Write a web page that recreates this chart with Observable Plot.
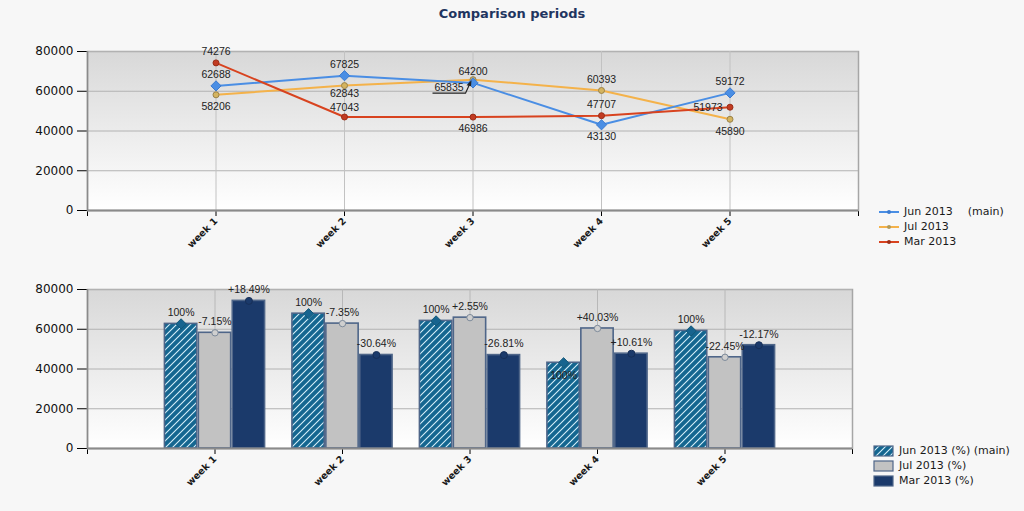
<!DOCTYPE html>
<html>
<head>
<meta charset="utf-8">
<script src="https://cdn.jsdelivr.net/npm/d3@7"></script>
<script src="https://cdn.jsdelivr.net/npm/@observablehq/plot@0.6"></script>
<style>
  html, body { margin: 0; padding: 0; background: #f7f7f7; width: 1024px; height: 511px; overflow: hidden; }
  #title { position: absolute; top: 6px; left: 0; width: 1024px; text-align: center; font: bold 13px "DejaVu Sans", sans-serif; color: #1f3560; }
  .chart { position: absolute; left: 0; }
  .chart svg { overflow: visible; }
  .chart [aria-label^="y-axis"] text { font: 12px "DejaVu Sans", sans-serif; fill: #111; }
  .chart [aria-label^="x-axis"] text { font: bold 9.5px "DejaVu Sans", sans-serif; fill: #1a1a1a; }
  .legend { position: absolute; font: 11px "DejaVu Sans", sans-serif; color: #1a1a1a; }
  .legend .row { height: 15px; line-height: 15px; white-space: nowrap; display: flex; align-items: center; }
  .legend svg { margin-right: 4px; }
</style>
</head>
<body>
<div id="title">Comparison periods</div>
<div id="top" class="chart" style="top:30px"></div>
<div id="bottom" class="chart" style="top:270px"></div>
<div id="legTop" class="legend" style="left:879px; top:204px"></div>
<div id="legBot" class="legend" style="left:873px; top:443px"></div>
<script>
const weeks = ["week 1", "week 2", "week 3", "week 4", "week 5"];
const seriesNames = ["Jun 2013", "Jul 2013", "Mar 2013"];
const jun = [62688, 67825, 64200, 43130, 59172];
const jul = [58206, 62843, 65835, 60393, 45890];
const mar = [74276, 47043, 46986, 47707, 51973];
const junPct = ["100%", "100%", "100%", "100%", "100%"];
const julPct = ["-7.15%", "-7.35%", "+2.55%", "+40.03%", "-22.45%"];
const marPct = ["+18.49%", "-30.64%", "-26.81%", "+10.61%", "-12.17%"];
const yTicks = [0, 20000, 40000, 60000, 80000];

// label placement (a = above, b = below, ac/bc = close above/below, l = left, o = offset with leader)
const lineLabelPos = [["a","a","a","b","a"], ["b","bc","o","a","b"], ["a","ac","b","a","l"]];
const barLabelPos = [["a","a","a","b","a"], ["a","a","a","a","a"], ["a","a","a","a","a"]];

const values = [jun, jul, mar];
const pcts = [junPct, julPct, marPct];
const rows = [];
seriesNames.forEach((s, k) => weeks.forEach((w, i) => rows.push({
  series: s, k, week: i + 1, value: values[k][i], pct: pcts[k][i],
  lpos: lineLabelPos[k][i], bpos: barLabelPos[k][i]
})));
const bySeries = k => rows.filter(d => d.k === k);

const lineColors = ["#4a8ee4", "#f4b24a", "#d8431f"];
const tickFmt = i => (i >= 1 && i <= 5 ? weeks[i - 1] : "");
const labelFont = {fontSize: 10.5, fontFamily: "Liberation Sans, Arial, sans-serif", fill: "#222"};

function addDefs(svg, id, withHatch) {
  const defs = d3.select(svg).insert("defs", ":first-child");
  const g = defs.append("linearGradient").attr("id", id).attr("x1", 0).attr("y1", 0).attr("x2", 0).attr("y2", 1);
  g.append("stop").attr("offset", "0%").attr("stop-color", "#d8d8d8");
  g.append("stop").attr("offset", "100%").attr("stop-color", "#ffffff");
  if (withHatch) {
    const p = defs.append("pattern").attr("id", "hatchJun").attr("patternUnits", "userSpaceOnUse")
      .attr("width", 7).attr("height", 7);
    p.append("rect").attr("width", 7).attr("height", 7).attr("fill", "#146690");
    p.append("path").attr("d", "M0,7L7,0M-1.75,1.75L1.75,-1.75M5.25,8.75L8.75,5.25")
      .attr("stroke", "#d4eef9").attr("stroke-width", 1.1);
  }
}

// ---------- top line chart ----------
const leader = (index, scales) => {
  const x = scales.x, y = scales.y;
  const px = x(3), py = y(jul[2]);
  const g = d3.create("svg:g");
  g.append("path")
    .attr("d", `M${px - 40},${py + 14}L${px - 7},${py + 14}L${px - 2},${py + 3}`)
    .attr("fill", "none").attr("stroke", "#222").attr("stroke-width", 1.2);
  g.append("path")
    .attr("d", `M${px - 1},${py + 1}L${px - 6},${py + 6}L${px - 1.5},${py + 7}Z`)
    .attr("fill", "#222");
  return g.node();
};

const valText = d => String(d.value);
const topPlot = Plot.plot({
  width: 870, height: 240,
  marginTop: 21, marginBottom: 60, marginLeft: 87, marginRight: 12,
  style: {background: "transparent", overflow: "visible"},
  x: {domain: [0, 6], ticks: [0, 1, 2, 3, 4, 5, 6], tickFormat: tickFmt, tickRotate: -45, tickSize: 6, tickPadding: 3, label: null},
  y: {domain: [0, 80000], ticks: yTicks, tickFormat: d => String(d), tickSize: 10, tickPadding: 4, label: null},
  marks: [
    Plot.frame({fill: "url(#gTop)", stroke: "#a6a6a6", strokeWidth: 1.5}),
    Plot.ruleY(yTicks, {stroke: "#b2b2b2"}),
    Plot.ruleX([1, 2, 3, 4, 5], {stroke: "#c2c2c2"}),
    Plot.ruleY([0], {stroke: "#8a8a8a", strokeWidth: 2}),
    Plot.ruleX([0], {stroke: "#8a8a8a", strokeWidth: 1.5}),
    Plot.line(bySeries(1), {x: "week", y: "value", stroke: lineColors[1], strokeWidth: 2}),
    Plot.line(bySeries(0), {x: "week", y: "value", stroke: lineColors[0], strokeWidth: 2}),
    Plot.line(bySeries(2), {x: "week", y: "value", stroke: lineColors[2], strokeWidth: 2}),
    Plot.dot(bySeries(1), {x: "week", y: "value", r: 3, fill: "#d4b460", stroke: "#9a8248", strokeWidth: 1}),
    Plot.dot(bySeries(2), {x: "week", y: "value", r: 3, fill: "#c23b22", stroke: "#9a2e18", strokeWidth: 1}),
    Plot.dot(bySeries(0), {x: "week", y: "value", r: 4.6, symbol: "diamond2", fill: "#4a8ee4", stroke: "#3c7bd0", strokeWidth: 1}),
    Plot.text(rows.filter(d => d.lpos === "a"), {x: "week", y: "value", text: valText, dy: d => 0, ...labelFont, dy: -11}),
    Plot.text(rows.filter(d => d.lpos === "ac"), {x: "week", y: "value", text: valText, ...labelFont, dy: -9}),
    Plot.text(rows.filter(d => d.lpos === "b"), {x: "week", y: "value", text: valText, ...labelFont, dy: 12}),
    Plot.text(rows.filter(d => d.lpos === "bc"), {x: "week", y: "value", text: valText, ...labelFont, dy: 8}),
    Plot.text(rows.filter(d => d.lpos === "l"), {x: "week", y: "value", text: valText, ...labelFont, dx: -22, dy: 0}),
    Plot.text(rows.filter(d => d.lpos === "o"), {x: "week", y: "value", text: valText, ...labelFont, dx: -24, dy: 8}),
    leader
  ]
});
addDefs(topPlot, "gTop", false);
document.getElementById("top").appendChild(topPlot);

// ---------- bottom bar chart ----------
const barW = 0.266;
const groupStart = -0.399;
const barFills = ["url(#hatchJun)", "#c2c2c2", "#1b3a6b"];
const barRows = rows.map(d => ({...d, x1: d.week + groupStart + d.k * barW, x2: d.week + groupStart + (d.k + 1) * barW, xc: d.week + groupStart + (d.k + 0.5) * barW}));
const bBy = k => barRows.filter(d => d.k === k);

const botPlot = Plot.plot({
  width: 870, height: 240,
  marginTop: 19, marginBottom: 62, marginLeft: 87, marginRight: 18,
  style: {background: "transparent", overflow: "visible"},
  x: {domain: [0, 6], ticks: [0, 1, 2, 3, 4, 5, 6], tickFormat: tickFmt, tickRotate: -45, tickSize: 6, tickPadding: 3, label: null},
  y: {domain: [0, 80000], ticks: yTicks, tickFormat: d => String(d), tickSize: 10, tickPadding: 4, label: null},
  marks: [
    Plot.frame({fill: "url(#gBot)", stroke: "#a6a6a6", strokeWidth: 1.5}),
    Plot.ruleY(yTicks, {stroke: "#b2b2b2"}),
    Plot.ruleX([1, 2, 3, 4, 5], {stroke: "#b8b8b8"}),
    ...[0, 1, 2].map(k => Plot.rectY(bBy(k), {x1: "x1", x2: "x2", y1: 0, y2: "value", fill: barFills[k], stroke: "#4f6689", strokeWidth: 1.6, insetLeft: 0.8, insetRight: 0.8})),
    Plot.ruleY([0], {stroke: "#8a8a8a", strokeWidth: 2}),
    Plot.ruleX([0], {stroke: "#8a8a8a", strokeWidth: 1.5}),
    Plot.dot(bBy(1), {x: "xc", y: "value", r: 3.2, fill: "#cfcfcf", stroke: "#7d8a9a", strokeWidth: 1}),
    Plot.dot(bBy(2), {x: "xc", y: "value", r: 3.5, fill: "#1b3a6b", stroke: "#172f57", strokeWidth: 1}),
    Plot.dot(bBy(0), {x: "xc", y: "value", r: 4.6, symbol: "diamond2", fill: "#17648f", stroke: "#135879", strokeWidth: 1}),
    Plot.text(barRows.filter(d => d.bpos === "a"), {x: "xc", y: "value", text: "pct", ...labelFont, dy: -11}),
    Plot.text(barRows.filter(d => d.bpos === "b"), {x: "xc", y: "value", text: "pct", ...labelFont, dy: 13})
  ]
});
addDefs(botPlot, "gBot", true);
document.getElementById("bottom").appendChild(botPlot);

// ---------- legends ----------
const legTop = d3.select("#legTop");
seriesNames.forEach((s, k) => {
  const row = legTop.append("div").attr("class", "row");
  const sv = row.append("svg").attr("width", 21).attr("height", 10);
  sv.append("line").attr("x1", 0).attr("x2", 20).attr("y1", 5).attr("y2", 5).attr("stroke", lineColors[k]).attr("stroke-width", 2);
  sv.append("circle").attr("cx", 10).attr("cy", 5).attr("r", 2).attr("fill", ["#3c7bd0", "#b09a5a", "#9a2e18"][k]);
  row.append("span").text(s);
  if (k === 0) row.append("span").style("margin-left", "15px").text("(main)");
});

const legBot = d3.select("#legBot");
seriesNames.forEach((s, k) => {
  const row = legBot.append("div").attr("class", "row");
  const sv = row.append("svg").attr("width", 22).attr("height", 12);
  if (k === 0) {
    const p = sv.append("defs").append("pattern").attr("id", "hatchLeg").attr("patternUnits", "userSpaceOnUse").attr("width", 7).attr("height", 7);
    p.append("rect").attr("width", 7).attr("height", 7).attr("fill", "#146690");
    p.append("path").attr("d", "M0,7L7,0M-1.75,1.75L1.75,-1.75M5.25,8.75L8.75,5.25").attr("stroke", "#d4eef9").attr("stroke-width", 1.1);
  }
  sv.append("rect").attr("x", 1).attr("y", 1).attr("width", 19).attr("height", 10)
    .attr("fill", k === 0 ? "url(#hatchLeg)" : barFills[k]).attr("stroke", "#4f6689").attr("stroke-width", 1.2);
  row.append("span").text(s + " (%)" + (k === 0 ? " (main)" : ""));
});
</script>
</body>
</html>
